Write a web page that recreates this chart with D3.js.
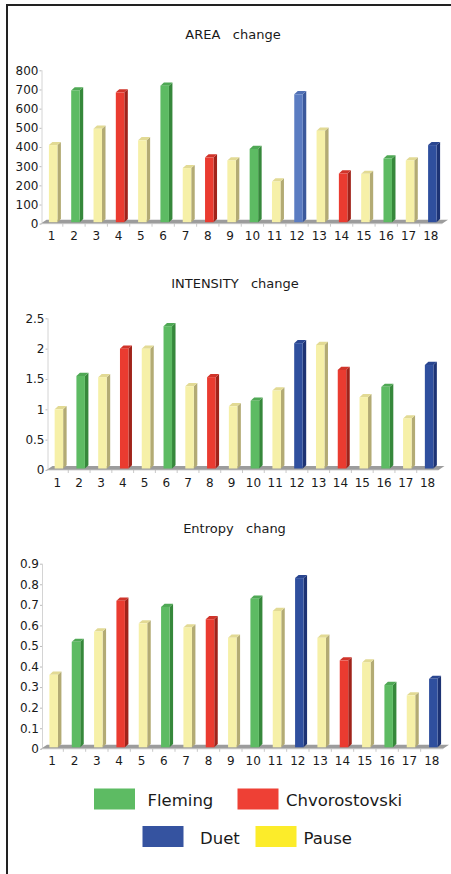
<!DOCTYPE html>
<html>
<head>
<meta charset="utf-8">
<script src="https://cdn.jsdelivr.net/npm/d3@7"></script>
<style>
  html, body { margin: 0; padding: 0; background: #fff; }
  svg { display: block; }
  text { font-family: "DejaVu Sans", Verdana, sans-serif; fill: #1a1a1a; }
</style>
</head>
<body>
<svg id="chart" width="451" height="874"></svg>
<script>
// Recording segments 1..18 and who is singing in each
const categories = ["1","2","3","4","5","6","7","8","9","10","11","12","13","14","15","16","17","18"];
const singer = ["Pause","Fleming","Pause","Chvorostovski","Pause","Fleming","Pause","Chvorostovski","Pause",
                "Fleming","Pause","Duet","Pause","Chvorostovski","Pause","Fleming","Pause","Duet"];

// Measured change per segment
const areaValues      = [410, 695, 495, 685, 435, 720, 290, 345, 330, 390, 220, 675, 485, 262, 260, 340, 330, 410];
const intensityValues = [1.0, 1.55, 1.53, 2.0, 2.0, 2.37, 1.38, 1.53, 1.05, 1.14, 1.31, 2.09, 2.06, 1.65, 1.2, 1.37, 0.85, 1.73];
const entropyValues   = [0.36, 0.52, 0.57, 0.72, 0.61, 0.69, 0.59, 0.63, 0.54, 0.73, 0.67, 0.83, 0.54, 0.43, 0.42, 0.31, 0.26, 0.34];

// Axis tick labels
const areaTicks      = [0, 100, 200, 300, 400, 500, 600, 700, 800];
const intensityTicks = [0, 0.5, 1, 1.5, 2, 2.5];
const entropyTicks   = [0, 0.1, 0.2, 0.3, 0.4, 0.5, 0.6, 0.7, 0.8, 0.9];

// Legend entries, in two rows
const legendRow1 = ["Fleming", "Chvorostovski"];
const legendRow2 = ["Duet", "Pause"];

// Bar shading: front face, side face, top cap
const shades = {
  Pause:         { front: "#f6f0a8", side: "#b3ab74", top: "#e2da94" },
  Fleming:       { front: "#5dbb63", side: "#36883b", top: "#4fa855" },
  Chvorostovski: { front: "#ea3b30", side: "#a0231a", top: "#d0342a" },
  Duet:          { front: "#2f4f9e", side: "#1d3374", top: "#2a4690" },
  DuetLight:     { front: "#5b7cc2", side: "#3b599c", top: "#5070b5" }
};
const legendColors = { Fleming: "#5dbb63", Chvorostovski: "#ee4035", Duet: "#3553a0", Pause: "#fcec2a" };

const svg = d3.select("#chart");

// Page frame (top and left rules)
svg.append("line").attr("x1", 7).attr("x2", 451).attr("y1", 5).attr("y2", 5)
   .attr("stroke", "#222").attr("stroke-width", 2);
svg.append("line").attr("x1", 7).attr("x2", 7).attr("y1", 4).attr("y2", 874)
   .attr("stroke", "#222").attr("stroke-width", 2);

function drawChart(cfg) {
  const g = svg.append("g");
  const x = d3.scaleBand().domain(categories).range([cfg.x0, cfg.x1]);
  const y = d3.scaleLinear().domain([0, cfg.ticks[cfg.ticks.length - 1]]).range([cfg.y0, cfg.yTop]);

  const fdx = 6, fdy = 4;      // floor depth
  const bdx = 3.5, bdy = 3.2;  // bar depth
  const bw = 8.5;              // bar front width

  // Title
  g.append("text")
    .attr("x", cfg.titleX).attr("y", cfg.titleY)
    .attr("text-anchor", "middle")
    .attr("font-size", 13)
    .style("white-space", "pre")
    .text(cfg.title);

  // Value axis line (back wall edge)
  g.append("line")
    .attr("x1", cfg.x0 + 1.5).attr("x2", cfg.x0 + 1.5)
    .attr("y1", y(0) - 1).attr("y2", y.range()[1])
    .attr("stroke", "#d4d4d4").attr("stroke-width", 1);

  // Value axis labels
  const yAxis = d3.axisLeft(y).tickValues(cfg.ticks).tickSize(2).tickPadding(1)
    .tickFormat(d => String(d));
  const ya = g.append("g").attr("transform", `translate(${cfg.x0 + 1},0)`).call(yAxis);
  ya.select(".domain").remove();
  ya.selectAll(".tick line").attr("stroke", "#bbb");
  ya.selectAll(".tick text").attr("font-size", 12)
    .attr("font-family", "DejaVu Sans, Verdana, sans-serif").attr("fill", "#1a1a1a");

  // Floor
  g.append("polygon")
    .attr("points", [[cfg.x0, cfg.y0], [cfg.x1, cfg.y0], [cfg.x1 + fdx, cfg.y0 - fdy], [cfg.x0 + fdx, cfg.y0 - fdy]]
      .map(p => p.join(",")).join(" "))
    .attr("fill", "#9c9c9c");
  g.append("line")
    .attr("x1", cfg.x0).attr("x2", cfg.x1).attr("y1", cfg.y0).attr("y2", cfg.y0)
    .attr("stroke", "#c8c8c8").attr("stroke-width", 0.8);

  // Category axis with small separators
  const xAxis = d3.axisBottom(x).tickSize(0).tickPadding(8);
  const xa = g.append("g").attr("transform", `translate(0,${cfg.y0})`).call(xAxis);
  xa.select(".domain").remove();
  xa.selectAll(".tick text").attr("font-size", 12)
    .attr("font-family", "DejaVu Sans, Verdana, sans-serif").attr("fill", "#1a1a1a");
  g.selectAll(".sep").data(categories.slice(1)).join("line")
    .attr("class", "sep")
    .attr("x1", d => x(d)).attr("x2", d => x(d))
    .attr("y1", cfg.y0).attr("y2", cfg.y0 + 3)
    .attr("stroke", "#bbb").attr("stroke-width", 0.8);

  // 3D bars
  const bars = g.selectAll(".bar").data(cfg.values.map((v, i) => ({ v, i, cat: categories[i] })))
    .join("g").attr("class", "bar");
  bars.each(function (d) {
    const key = (cfg.lightBars && cfg.lightBars.includes(d.cat)) ? "DuetLight" : singer[d.i];
    const c = shades[key];
    const xl = x(d.cat) + x.bandwidth() / 2 - bw / 2 + 1.5;
    const xr = xl + bw;
    const yt = y(d.v);
    const yb = cfg.y0 - 1.5;
    const sel = d3.select(this);
    sel.append("polygon")
      .attr("points", [[xr, yt], [xr + bdx, yt - bdy], [xr + bdx, yb - bdy], [xr, yb]].map(p => p.join(",")).join(" "))
      .attr("fill", c.side);
    sel.append("polygon")
      .attr("points", [[xl, yt], [xl + bdx, yt - bdy], [xr + bdx, yt - bdy], [xr, yt]].map(p => p.join(",")).join(" "))
      .attr("fill", c.top);
    sel.append("rect")
      .attr("x", xl).attr("y", yt).attr("width", bw).attr("height", yb - yt)
      .attr("fill", c.front);
  });
}

drawChart({ title: "AREA   change", titleX: 233, titleY: 39, values: areaValues, ticks: areaTicks,
            x0: 40.5, x1: 442, y0: 223.7, yTop: 70.3, lightBars: ["12"] });
drawChart({ title: "INTENSITY   change", titleX: 235, titleY: 288, values: intensityValues, ticks: intensityTicks,
            x0: 46.5, x1: 438.5, y0: 470, yTop: 318.3 });
drawChart({ title: "Entropy   chang", titleX: 234.5, titleY: 533, values: entropyValues, ticks: entropyTicks,
            x0: 41, x1: 443, y0: 748.8, yTop: 563.7 });

// Legend
const legend = svg.append("g").attr("font-family", "Liberation Sans, Arial, sans-serif");
const rows = [
  { items: legendRow1, y: 788.5, swatchX: [94, 237.5], textX: [147.5, 286] },
  { items: legendRow2, y: 826, swatchX: [142.5, 255.5], textX: [200, 303.5] }
];
rows.forEach(r => {
  r.items.forEach((name, i) => {
    legend.append("rect")
      .attr("x", r.swatchX[i]).attr("y", r.y).attr("width", 41).attr("height", 21)
      .attr("fill", legendColors[name]);
    legend.append("text")
      .attr("x", r.textX[i]).attr("y", r.y + 17.5)
      .attr("font-size", 16.5).attr("font-family", "Liberation Sans, Arial, sans-serif")
      .text(name);
  });
});
</script>
</body>
</html>
